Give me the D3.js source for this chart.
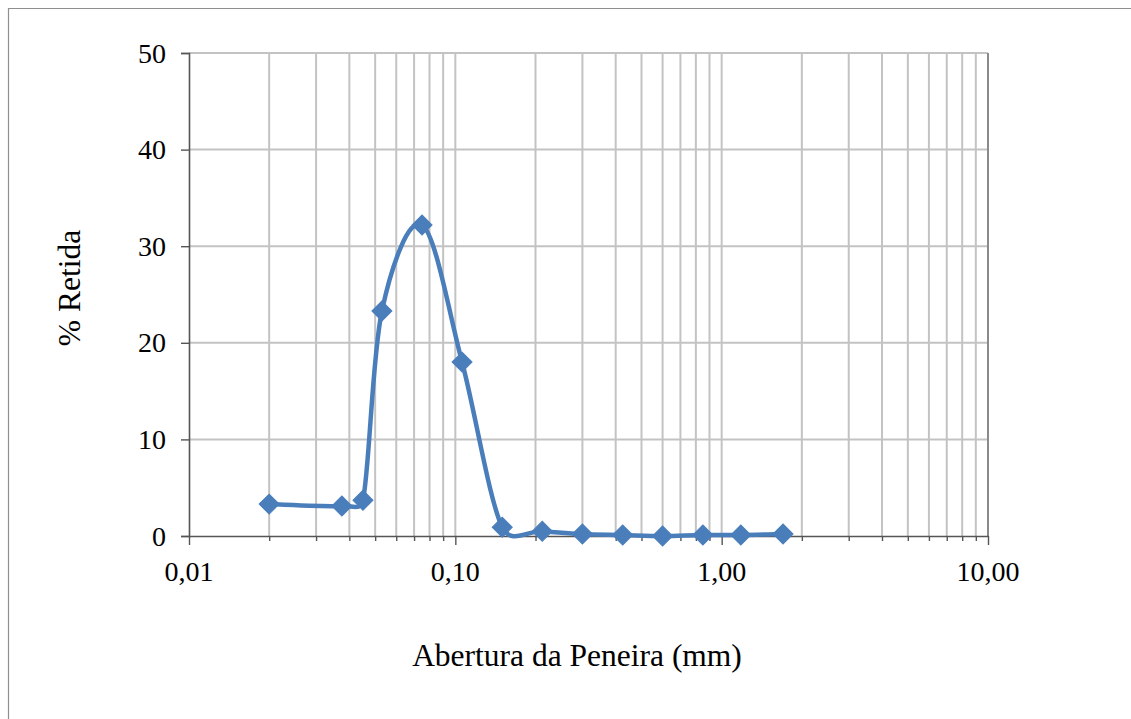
<!DOCTYPE html>
<html>
<head>
<meta charset="utf-8">
<script src="https://cdn.jsdelivr.net/npm/d3@7"></script>
<style>
  html, body { margin: 0; padding: 0; background: #fff; overflow: hidden; }
  svg { display: block; }
  text { font-family: "Liberation Serif", "Times New Roman", serif; fill: #000; }
</style>
</head>
<body>
<svg id="chart" width="1131" height="719"></svg>
<script>
// Sieve openings (mm) and percent retained on each sieve
const abertura = [0.020, 0.0375, 0.045, 0.053, 0.075, 0.106, 0.150, 0.212, 0.300, 0.425, 0.600, 0.850, 1.18, 1.70];
const retida   = [3.3, 3.1, 3.7, 23.3, 32.2, 18.0, 0.9, 0.5, 0.2, 0.1, 0.0, 0.1, 0.1, 0.2];

const xTickValues = [0.01, 0.1, 1, 10];
const xTickLabels = ["0,01", "0,10", "1,00", "10,00"];
const yTickValues = [0, 10, 20, 30, 40, 50];

const xTitle = "Abertura da Peneira (mm)";
const yTitle = "% Retida";

const svg = d3.select("#chart");

// outer chart frame (top and left edges fall inside the page)
svg.append("path")
  .attr("d", "M8.5,719 V8.5 H1131")
  .attr("fill", "none")
  .attr("stroke", "#8f8f8f")
  .attr("stroke-width", 1.2);

const plot = { left: 189, right: 988, top: 53, bottom: 536 };

const x = d3.scaleLog().domain([0.01, 10]).range([plot.left, plot.right]);
const y = d3.scaleLinear().domain([0, 50]).range([plot.bottom, plot.top]);

// minor + major log positions
const logTicks = x.ticks(); // 0.01, 0.02 ... 10

// vertical grid
svg.append("g")
  .selectAll("line")
  .data(logTicks.filter(v => v > 0.01))
  .join("line")
  .attr("x1", d => x(d)).attr("x2", d => x(d))
  .attr("y1", plot.top).attr("y2", plot.bottom)
  .attr("stroke", "#c3c3c3")
  .attr("stroke-width", 2);

// horizontal grid
svg.append("g")
  .selectAll("line")
  .data(yTickValues.filter(v => v > 0))
  .join("line")
  .attr("x1", plot.left).attr("x2", plot.right)
  .attr("y1", d => y(d)).attr("y2", d => y(d))
  .attr("stroke", "#c3c3c3")
  .attr("stroke-width", 2);

// right border of plot area
svg.append("line")
  .attr("x1", plot.right).attr("x2", plot.right)
  .attr("y1", plot.top).attr("y2", plot.bottom)
  .attr("stroke", "#8a8a8a").attr("stroke-width", 2);

// x axis (major ticks labelled, minor ticks short)
const isMajor = v => xTickValues.some(t => Math.abs(t - v) / t < 1e-9);
const xAxis = d3.axisBottom(x)
  .tickValues(logTicks)
  .tickSize(0)
  .tickFormat(() => "");
const gx = svg.append("g")
  .attr("transform", `translate(0,${plot.bottom})`)
  .call(xAxis);
gx.select(".domain").attr("stroke", "#555").attr("stroke-width", 1.6);
gx.selectAll(".tick line")
  .attr("y2", d => isMajor(d) ? 9 : 5)
  .attr("stroke", "#555").attr("stroke-width", 1.4);

svg.append("g")
  .selectAll("text")
  .data(xTickValues)
  .join("text")
  .attr("x", d => x(d))
  .attr("y", 581)
  .attr("text-anchor", "middle")
  .style("font-size", "28px")
  .text((d, i) => xTickLabels[i]);

// y axis
const yAxis = d3.axisLeft(y)
  .tickValues(yTickValues)
  .tickSize(8)
  .tickPadding(0)
  .tickFormat("");
const gy = svg.append("g")
  .attr("transform", `translate(${plot.left},0)`)
  .call(yAxis);
gy.select(".domain").attr("stroke", "#555").attr("stroke-width", 1.6);
gy.selectAll(".tick line").attr("stroke", "#555").attr("stroke-width", 1.4);

svg.append("g")
  .selectAll("text")
  .data(yTickValues)
  .join("text")
  .attr("x", 166)
  .attr("y", d => y(d))
  .attr("dy", "0.34em")
  .attr("text-anchor", "end")
  .style("font-size", "28px")
  .text(d => d);

// axis titles
svg.append("text")
  .attr("x", 577).attr("y", 666)
  .attr("text-anchor", "middle")
  .style("font-size", "31.5px")
  .text(xTitle);

svg.append("text")
  .attr("transform", "translate(80,288) rotate(-90)")
  .attr("text-anchor", "middle")
  .style("font-size", "31.5px")
  .text(yTitle);

// Spreadsheet-style smoothed line: cubic Bezier segments whose handles are
// 1/6 of the neighbour chord, capped at half the segment length.
function smoothPath(p) {
  const path = d3.path();
  const dist = (a, b) => Math.hypot(b[0] - a[0], b[1] - a[1]);
  path.moveTo(p[0][0], p[0][1]);
  for (let i = 0; i < p.length - 1; i++) {
    const p0 = p[Math.max(i - 1, 0)], p1 = p[i], p2 = p[i + 1], p3 = p[Math.min(i + 2, p.length - 1)];
    const d12 = dist(p1, p2), d02 = dist(p0, p2), d13 = dist(p1, p3);
    let f0 = 1 / 6, f1 = 1 / 6;
    if (d02 / 6 >= d12 / 2 && d02 > 0) f0 = d12 / 2 / d02;
    if (d13 / 6 >= d12 / 2 && d13 > 0) f1 = d12 / 2 / d13;
    const c1 = [p1[0] + f0 * (p2[0] - p0[0]), p1[1] + f0 * (p2[1] - p0[1])];
    const c2 = [p2[0] - f1 * (p3[0] - p1[0]), p2[1] - f1 * (p3[1] - p1[1])];
    path.bezierCurveTo(c1[0], c1[1], c2[0], c2[1], p2[0], p2[1]);
  }
  return path.toString();
}

const pts = abertura.map((a, i) => [a, retida[i]]);
const screenPts = pts.map(d => [x(d[0]), y(d[1])]);

svg.append("path")
  .attr("d", smoothPath(screenPts))
  .attr("fill", "none")
  .attr("stroke", "#4a7ebb")
  .attr("stroke-width", 4.5)
  .attr("stroke-linejoin", "round");

// diamond markers
const diamond = d3.symbol().type(d3.symbolSquare).size(200);
svg.append("g")
  .selectAll("path")
  .data(pts)
  .join("path")
  .attr("d", diamond)
  .attr("transform", d => `translate(${x(d[0])},${y(d[1])}) rotate(45)`)
  .attr("fill", "#4a7ebb")
  .attr("stroke", "#4a7ebb")
  .attr("stroke-width", 1);
</script>
</body>
</html>
